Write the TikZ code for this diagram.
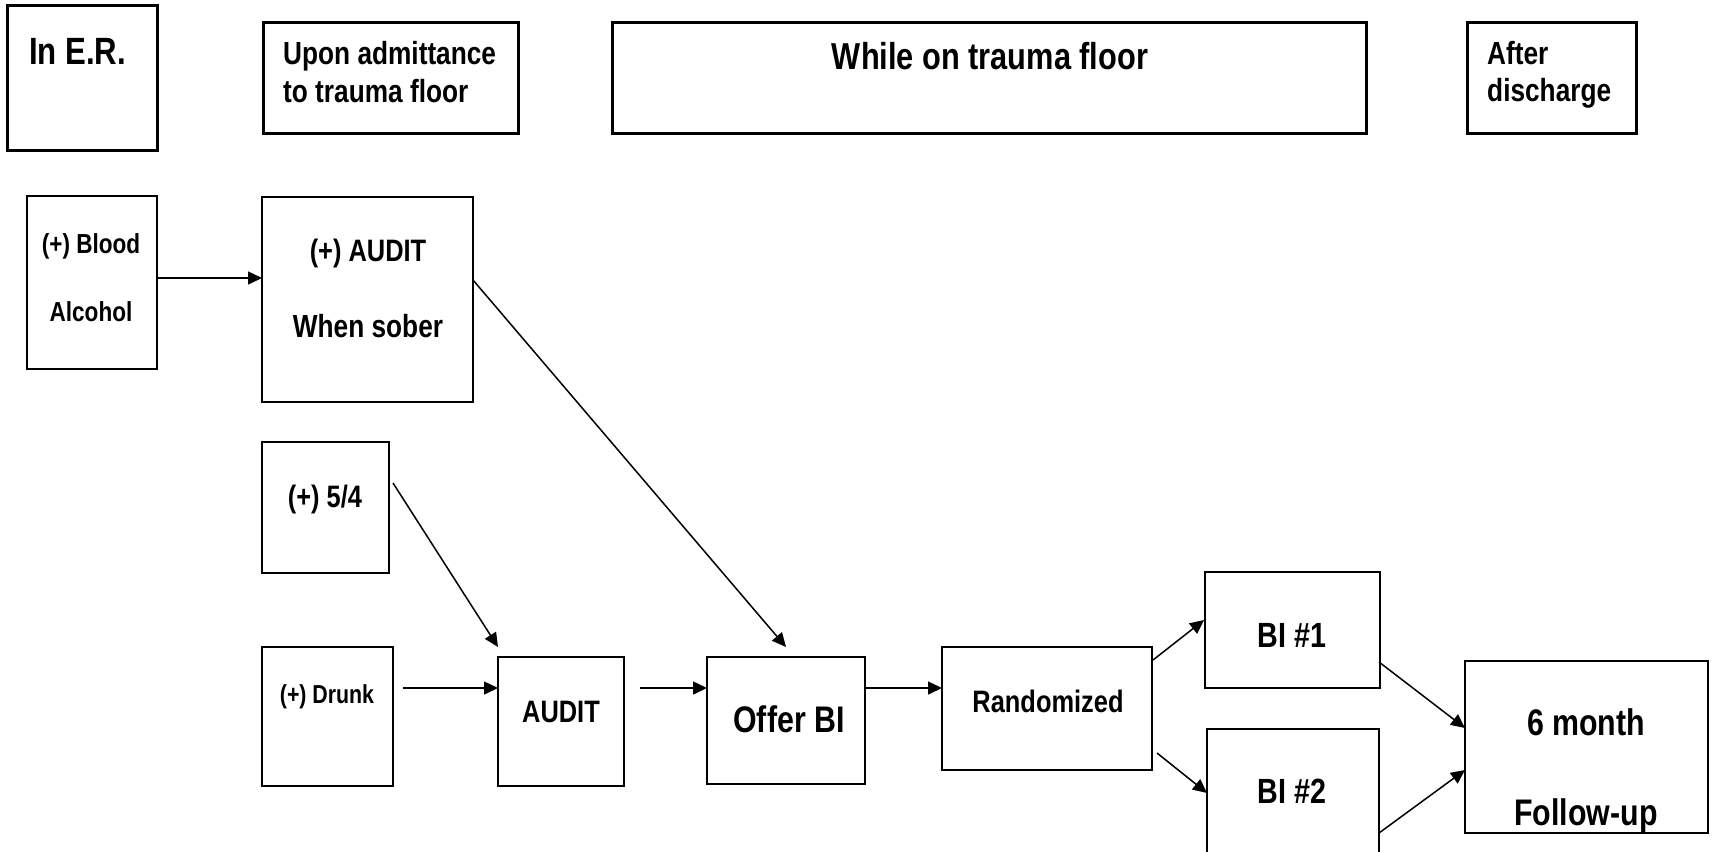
\documentclass[tikz,border=0pt]{standalone}
\usepackage{fontspec}
\setmainfont{Liberation Sans}[FakeStretch=0.82]
\usetikzlibrary{arrows.meta}
\newcommand\fsz[1]{\fontsize{#1pt}{#1pt}\selectfont}
\begin{document}
\begin{tikzpicture}[x=1pt,y=-1pt,
  hdr/.style={draw, line width=3pt, inner sep=0pt, outer sep=0pt},
  bx/.style={draw, line width=2pt, inner sep=0pt, outer sep=0pt},
  lbl/.style={anchor=base, inner sep=0pt, font=\bfseries},
  arr/.style={-{Triangle[length=14pt,width=13pt]}, line width=1.5pt}]
\useasboundingbox (0,0) rectangle (1712,851);
\fill[white] (0,0) rectangle (1712,851);
\clip (0,0) rectangle (1712,851);

% header boxes
\node[hdr, minimum width=150pt, minimum height=144pt] (er) at (82,78) {};
\node[lbl, anchor=base west, font=\bfseries\fsz{38}] (ert) at (29,64) {In E.R.};

\node[hdr, minimum width=255pt, minimum height=110pt] (upon) at (390.5,78) {};
\node[lbl, anchor=base west, font=\bfseries\fsz{32}] (upont1) at (283,65) {Upon admittance};
\node[lbl, anchor=base west, font=\bfseries\fsz{32}] (upont2) at (283,102) {to trauma floor};

\node[hdr, minimum width=754pt, minimum height=110pt] (while) at (989,78) {};
\node[lbl, font=\bfseries\fsz{37.5}] (whilet) at (990,70) {While on trauma floor};

\node[hdr, minimum width=169pt, minimum height=110pt] (after) at (1551.5,78) {};
\node[lbl, anchor=base west, font=\bfseries\fsz{32}] (aftert1) at (1487,65) {After};
\node[lbl, anchor=base west, font=\bfseries\fsz{32}] (aftert2) at (1487,101) {discharge};

% flow boxes
\node[bx, minimum width=130pt, minimum height=173pt] (blood) at (92,282.5) {};
\node[lbl, font=\bfseries\fsz{27.5}] (bloodt1) at (91,253) {(+) Blood};
\node[lbl, font=\bfseries\fsz{27.5}] (bloodt2) at (91,321) {Alcohol};

\node[bx, minimum width=211pt, minimum height=205pt] (sober) at (367.5,299.5) {};
\node[lbl, font=\bfseries\fsz{31}] (sobert1) at (368,261) {(+) AUDIT};
\node[lbl, font=\bfseries\fsz{32}] (sobert2) at (368,337) {When sober};

\node[bx, minimum width=127pt, minimum height=131pt] (five) at (325.5,507.5) {};
\node[lbl, font=\bfseries\fsz{31}] (fivet) at (325,507) {(+) 5/4};

\node[bx, minimum width=131pt, minimum height=139pt] (drunk) at (327.5,716.5) {};
\node[lbl, font=\bfseries\fsz{26}] (drunkt) at (327,703) {(+) Drunk};

\node[bx, minimum width=126pt, minimum height=129pt] (audit) at (561,721.5) {};
\node[lbl, font=\bfseries\fsz{31}] (auditt) at (561,722) {AUDIT};

\node[bx, minimum width=158pt, minimum height=127pt] (offer) at (786,720.5) {};
\node[lbl, font=\bfseries\fsz{37}] (offert) at (789,732) {Offer BI};

\node[bx, minimum width=210pt, minimum height=123pt] (rand) at (1047,708.5) {};
\node[lbl, font=\bfseries\fsz{31}] (randt) at (1048,712) {Randomized};

\node[bx, minimum width=175pt, minimum height=116pt] (bi1) at (1292.5,630) {};
\node[lbl, font=\bfseries\fsz{35}] (bi1t) at (1292,647) {BI \#1};

\node[bx, minimum width=172pt, minimum height=151pt] (bi2) at (1293,804.5) {};
\node[lbl, font=\bfseries\fsz{35}] (bi2t) at (1292,803) {BI \#2};

\node[bx, minimum width=243pt, minimum height=172pt] (six) at (1586.5,747) {};
\node[lbl, font=\bfseries\fsz{37}] (sixt1) at (1586,735) {6 month};
\node[lbl, font=\bfseries\fsz{37}] (sixt2) at (1586,825) {Follow-up};

% connectors
\draw[arr] ([yshift=4.5pt]blood.east) -- ([yshift=21.5pt]sober.west);
\draw[arr] ([yshift=19.5pt]sober.east) -- ([yshift=10pt]offer.north);
\draw[arr] ([xshift=4pt,yshift=24.5pt]five.east) -- ([yshift=10pt]audit.north west);
\draw[arr] ([xshift=10pt,yshift=28.5pt]drunk.east) -- ([yshift=33.5pt]audit.west);
\draw[arr] ([xshift=16pt,yshift=33.5pt]audit.east) -- ([yshift=32.5pt]offer.west);
\draw[arr] ([yshift=32.5pt]offer.east) -- ([yshift=20.5pt]rand.west);
\draw[arr] ([xshift=1pt,yshift=48.5pt]rand.east) -- ([xshift=-1pt,yshift=10pt]bi1.west);
\draw[arr] ([xshift=5pt,yshift=-44.5pt]rand.east) -- ([yshift=-64pt]bi2.north west);
\draw[arr] ([xshift=-1pt,yshift=-32pt]bi1.east) -- ([yshift=19pt]six.west);
\draw[arr] ([yshift=-104pt]bi2.north east) -- ([yshift=-23pt]six.west);
\end{tikzpicture}
\end{document}
